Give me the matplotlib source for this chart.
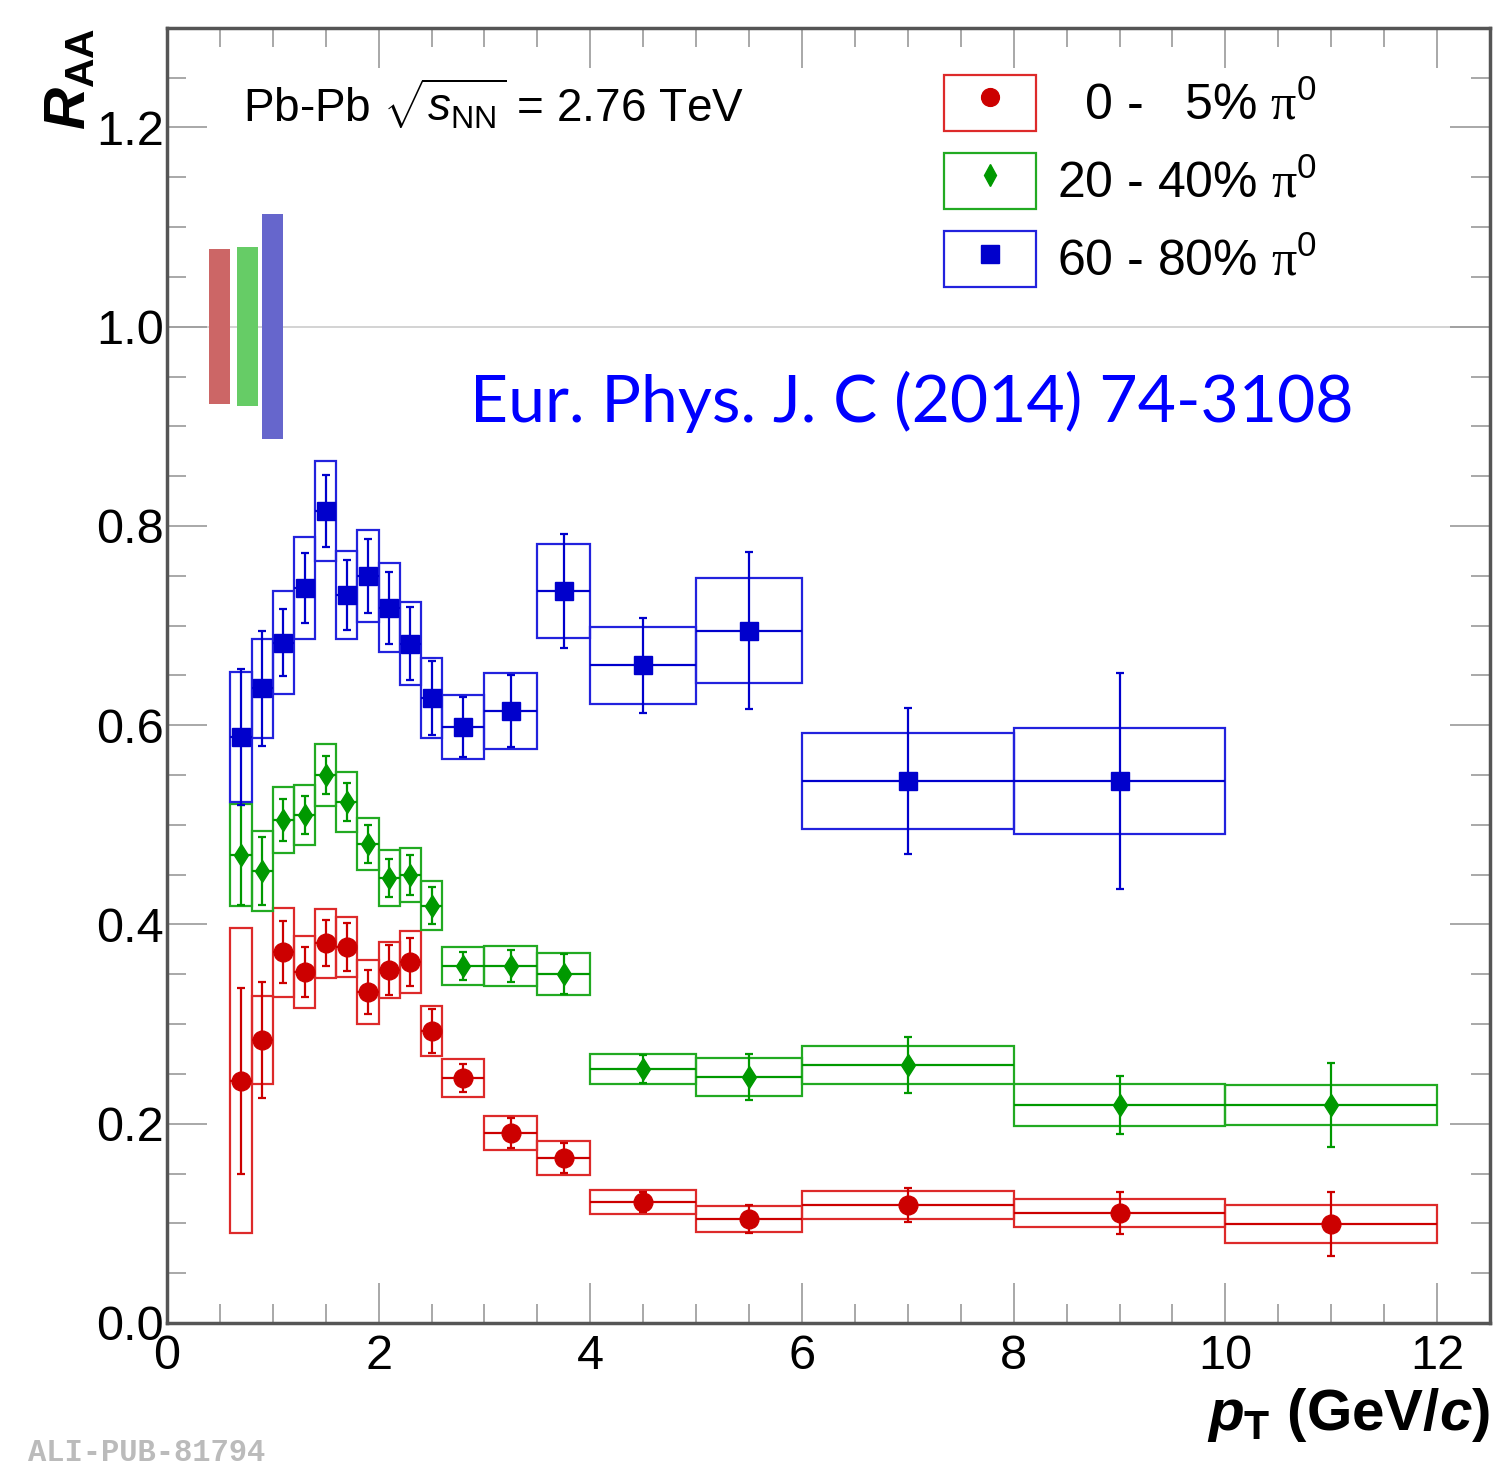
import numpy as np
import matplotlib
matplotlib.use('Agg')
import matplotlib.pyplot as plt
from matplotlib import font_manager
from matplotlib.patches import Rectangle
from matplotlib.lines import Line2D
from matplotlib.legend_handler import HandlerTuple
from matplotlib.ticker import MultipleLocator, FormatStrFormatter

names = {f.name for f in font_manager.fontManager.ttflist}
sans = 'Liberation Sans Narrow' if 'Liberation Sans Narrow' in names else 'Liberation Sans'

plt.rcParams['font.family'] = [sans, 'DejaVu Sans']
plt.rcParams['mathtext.fontset'] = 'custom'
plt.rcParams['mathtext.rm'] = sans
plt.rcParams['mathtext.it'] = sans + ':bold:italic'
plt.rcParams['mathtext.bf'] = sans + ':bold'
plt.rcParams['mathtext.sf'] = sans + ':italic'
plt.rcParams['mathtext.tt'] = 'Liberation Serif'

# pT bins (GeV/c)
pt = np.array([0.7, 0.9, 1.1, 1.3, 1.5, 1.7, 1.9, 2.1, 2.3, 2.5,
               2.8, 3.25, 3.75, 4.5, 5.5, 7.0, 9.0, 11.0])
half_bin = np.array([0.1] * 10 + [0.2, 0.25, 0.25, 0.5, 0.5, 1.0, 1.0, 1.0])

# 0-5 %
raa_0_5 = np.array([0.243, 0.284, 0.372, 0.352, 0.381, 0.377, 0.332, 0.354, 0.362,
                    0.293, 0.246, 0.191, 0.166, 0.121, 0.104, 0.118, 0.110, 0.099])
stat_0_5 = np.array([0.093, 0.058, 0.031, 0.025, 0.023, 0.024, 0.022, 0.025, 0.024,
                     0.022, 0.014, 0.015, 0.015, 0.010, 0.014, 0.017, 0.021, 0.032])
sys_0_5 = np.array([0.153, 0.044, 0.045, 0.036, 0.035, 0.030, 0.032, 0.028, 0.031,
                    0.025, 0.019, 0.017, 0.017, 0.012, 0.013, 0.014, 0.014, 0.019])

# 20-40 %
raa_20_40 = np.array([0.470, 0.454, 0.505, 0.510, 0.550, 0.523, 0.481, 0.447, 0.450,
                      0.419, 0.358, 0.358, 0.350, 0.255, 0.247, 0.259, 0.219, 0.219])
stat_20_40 = np.array([0.050, 0.034, 0.021, 0.019, 0.019, 0.019, 0.019, 0.019, 0.020,
                       0.019, 0.014, 0.016, 0.020, 0.014, 0.023, 0.028, 0.029, 0.042])
sys_20_40 = np.array([0.051, 0.040, 0.033, 0.030, 0.031, 0.030, 0.026, 0.028, 0.027,
                      0.025, 0.019, 0.020, 0.021, 0.015, 0.019, 0.019, 0.021, 0.020])

# 60-80 %
raa_60_80 = np.array([0.588, 0.637, 0.683, 0.738, 0.815, 0.731, 0.750, 0.718, 0.682,
                      0.627, 0.598, 0.614, 0.735, 0.660, 0.695, 0.544, 0.544])
stat_60_80 = np.array([0.068, 0.058, 0.034, 0.035, 0.036, 0.035, 0.037, 0.036, 0.037,
                       0.037, 0.030, 0.036, 0.057, 0.048, 0.079, 0.073, 0.108])
sys_60_80 = np.array([0.065, 0.050, 0.052, 0.051, 0.050, 0.044, 0.046, 0.045, 0.042,
                      0.040, 0.032, 0.038, 0.047, 0.039, 0.053, 0.048, 0.053])

# normalisation uncertainties around unity
norm_x = np.array([0.5, 0.76, 1.0])
norm_err = np.array([0.078, 0.080, 0.113])
norm_colors = ['#cc6666', '#66cc66', '#6666cc']

labels = ['  0 -   5% $\\mathtt{\\pi}^{0}$', '20 - 40% $\\mathtt{\\pi}^{0}$',
          '60 - 80% $\\mathtt{\\pi}^{0}$']
series = [
    (raa_0_5, stat_0_5, sys_0_5, 'o', 13.5, '#cc0000', '#dd2a2a'),
    (raa_20_40, stat_20_40, sys_20_40, 'd', 11.5, '#009900', '#22aa22'),
    (raa_60_80, stat_60_80, sys_60_80, 's', 13, '#0000cc', '#2222dd'),
]

fig = plt.figure(figsize=(14.96, 14.67), dpi=100)
ax = fig.add_axes([0.1116, 0.0982, 0.8844, 0.8828])

ax.axhline(1.0, color='#cccccc', lw=1.2, zorder=0)
ax.bar(norm_x, 2 * norm_err, width=0.2, bottom=1 - norm_err, color=norm_colors,
       edgecolor='none', zorder=1)

handles = []
for (y, stat, sys, m, ms, c, bc) in series:
    n = len(y)
    x = pt[:n]
    hw = half_bin[:n]
    ax.bar(x, 2 * sys, width=2 * hw, bottom=y - sys, fill=False,
           edgecolor=bc, linewidth=1.6, zorder=2)
    ax.errorbar(x, y, xerr=hw, fmt='none', ecolor=c, elinewidth=1.6, capsize=0, zorder=3)
    ax.errorbar(x, y, yerr=stat, fmt=m, ms=ms, color=c, mec=c, ecolor=c,
                elinewidth=1.6, capsize=3, capthick=1.6, zorder=4)
    handles.append((Rectangle((0, 0), 1, 1, fill=False, edgecolor=bc, lw=1.6),
                    Line2D([], [], marker=m, ls='none', color=c, ms=ms * 0.95)))

leg = ax.legend(handles, labels, handler_map={tuple: HandlerTuple(ndivide=1)},
                loc='upper left', bbox_to_anchor=(0.587, 0.9637), frameon=False,
                fontsize=36, handlelength=1.84, handleheight=1.35, handletextpad=0.42,
                labelspacing=0.44, borderpad=0, borderaxespad=0)

ax.text(0.0574, 0.9274, 'Pb-Pb $\\sqrt{\\mathsf{s}_{\\mathrm{NN}}}$ = 2.76 TeV',
        transform=ax.transAxes, fontsize=33, va='baseline', ha='left')
ax.text(0.229, 0.6958, 'Eur. Phys. J. C (2014) 74-3108', transform=ax.transAxes,
        fontsize=47.5, color='#0000ff', family=['Lato', 'DejaVu Sans'],
        va='baseline', ha='left')

ax.set_xlim(0, 12.5)
ax.set_ylim(0, 1.3)
ax.xaxis.set_major_locator(MultipleLocator(2))
ax.xaxis.set_minor_locator(MultipleLocator(0.5))
ax.yaxis.set_major_locator(MultipleLocator(0.2))
ax.yaxis.set_minor_locator(MultipleLocator(0.05))
ax.yaxis.set_major_formatter(FormatStrFormatter('%.1f'))
ax.tick_params(which='both', direction='in', top=True, right=True,
               color='#999999', width=1.2, labelsize=35)
ax.tick_params(which='major', length=29)
ax.tick_params(which='minor', length=14)
ax.tick_params(axis='x', pad=8)
ax.tick_params(axis='y', pad=2)
for s in ax.spines.values():
    s.set_color('#555555')
    s.set_linewidth(2.5)

fig.text(0.047, 0.946, '$R_{\\mathbf{AA}}$', rotation=90, fontsize=42,
         ha='center', va='center')
fig.text(0.996, 0.0252, '$p_{\\mathbf{T}}$ (GeV/$c$)', fontsize=42, fontweight='bold',
         ha='right', va='baseline')
fig.text(0.0187, 0.004, 'ALI-PUB-81794', fontsize=22, color='#bbbbbb',
         family='Liberation Mono', fontweight='bold', ha='left', va='baseline')

fig.savefig('out.png', dpi=100)
